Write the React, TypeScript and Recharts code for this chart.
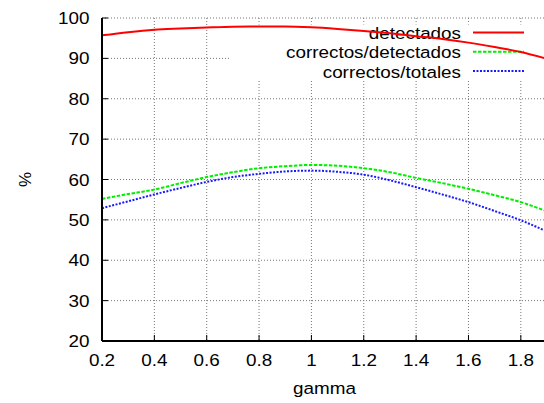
import React from "react";
import { CartesianGrid, Line, LineChart, ReferenceArea, XAxis, YAxis } from "recharts";

// gnuplot-style plot; the right side of the original is cropped at the page edge
const gamma = [0.2, 0.3, 0.4, 0.5, 0.6, 0.7, 0.8, 0.9, 1.0, 1.1, 1.2, 1.3, 1.4, 1.5, 1.6, 1.7, 1.8, 1.9];
const detectados = [95.7, 96.5, 97.1, 97.4, 97.65, 97.85, 97.9, 97.9, 97.7, 97.3, 96.8, 96.2, 95.5, 94.8, 93.9, 92.8, 91.6, 89.9];
const correctosDetectados = [55.2, 56.4, 57.5, 59.1, 60.6, 61.8, 62.8, 63.3, 63.6, 63.4, 62.8, 61.8, 60.4, 59.1, 57.7, 56.1, 54.4, 52.1];
const correctosTotales = [52.9, 54.6, 56.3, 57.9, 59.4, 60.6, 61.4, 62.0, 62.2, 61.9, 61.2, 59.8, 58.1, 56.3, 54.4, 52.2, 49.9, 47.1];

const xTicks = [0.2, 0.4, 0.6, 0.8, 1.0, 1.2, 1.4, 1.6, 1.8];
const yTicks = [20, 30, 40, 50, 60, 70, 80, 90, 100];
const seriesNames = ["detectados", "correctos/detectados", "correctos/totales"];

const FONT = "'Liberation Sans', Arial, Helvetica, sans-serif";
const FS = 17;
const SX = 1.11; // the source image text is a bit wider than plain Arial

const SERIES = [
  { key: "det", name: seriesNames[0], color: "#ff0000", dash: undefined as string | undefined },
  { key: "cd", name: seriesNames[1], color: "#00ee00", dash: "3.5 1.5" },
  { key: "ct", name: seriesNames[2], color: "#1a1aff", dash: "2 1.5" },
];

const rows = gamma.map((g, i) => ({
  gamma: g,
  det: detectados[i],
  cd: correctosDetectados[i],
  ct: correctosTotales[i],
}));

function Txt({ x, y, anchor, children }: { x: number; y: number; anchor: "start" | "middle" | "end"; children: React.ReactNode }) {
  return (
    <text transform={`translate(${x} ${y}) scale(${SX} 1)`} textAnchor={anchor} fontSize={FS} fontFamily={FONT} fill="#000">
      {children}
    </text>
  );
}

const XTick = (p: any) => <Txt x={p.x} y={p.y + 12} anchor="middle">{String(+Number(p.payload.value).toFixed(1))}</Txt>;
const YTick = (p: any) => <Txt x={p.x} y={p.y + 6} anchor="end">{p.payload.value}</Txt>;
const NoLabel = () => <g />;

function GammaLabel(props: any) {
  const vb = props.viewBox || {};
  return <Txt x={(vb.x ?? 102) + (vb.width ?? 445) / 2} y={394} anchor="middle">gamma</Txt>;
}

function PercentLabel(props: any) {
  const vb = props.viewBox || {};
  const cx = 25;
  const cy = (vb.y ?? 18) + (vb.height ?? 323) / 2;
  return (
    <text x={cx} y={cy} transform={`rotate(-90 ${cx} ${cy})`} textAnchor="middle" dominantBaseline="central"
      fontSize={FS} fontFamily={FONT} fill="#000">
      %
    </text>
  );
}

// opaque key box, drawn under the curves like gnuplot does
function KeyBox(props: any) {
  const { x, y, width, height } = props;
  const right = x + width;
  return (
    <g>
      <rect x={x} y={y + 6.5} width={width} height={height - 6.5} fill="#fff" />
      {SERIES.map((s, i) => (
        <g key={s.key}>
          <Txt x={right - 86} y={y + 21 + i * 19.3} anchor="end">{s.name}</Txt>
          <line
            x1={right - 74} x2={right - 23}
            y1={y + 14.5 + i * 19.3} y2={y + 14.5 + i * 19.3}
            stroke={s.color} strokeWidth={2} strokeDasharray={s.dash}
          />
        </g>
      ))}
    </g>
  );
}

export default function App() {
  return (
    <div style={{ position: "absolute", left: 0, top: 0, width: 544, height: 403, overflow: "hidden", background: "#fff" }}>
      <LineChart width={560} height={403} data={rows} margin={{ top: 18, right: 13, bottom: 0, left: 0 }}
        style={{ fontFamily: FONT }}>
        <CartesianGrid stroke="#777" strokeDasharray="1 2" />
        <XAxis
          type="number" dataKey="gamma" domain={[0.2, 1.9]} ticks={xTicks} allowDataOverflow
          height={62} axisLine={{ stroke: "#000", strokeWidth: 2 }}
          tickSize={-6} tickMargin={19} tickLine={{ stroke: "#000" }}
          tick={XTick} label={<GammaLabel />}
        />
        <XAxis
          xAxisId="top" orientation="top" type="number" dataKey="gamma" domain={[0.2, 1.9]} ticks={xTicks}
          allowDataOverflow height={0} axisLine={{ stroke: "#000", strokeWidth: 2 }}
          tickSize={-6} tickLine={{ stroke: "#000" }} tick={NoLabel}
        />
        <YAxis
          type="number" domain={[20, 100]} ticks={yTicks} width={102}
          axisLine={{ stroke: "#000", strokeWidth: 2 }}
          tickSize={-6} tickMargin={18.5} tickLine={{ stroke: "#000" }}
          tick={YTick} label={<PercentLabel />}
        />
        <ReferenceArea x1={0.689} x2={1.9} y1={84.64} y2={100} shape={<KeyBox />} ifOverflow="visible" />
        {SERIES.map((s) => (
          <Line
            key={s.key} dataKey={s.key} name={s.name} type="monotone" stroke={s.color} strokeWidth={2}
            strokeDasharray={s.dash} dot={false} activeDot={false} isAnimationActive={false}
          />
        ))}
      </LineChart>
    </div>
  );
}
